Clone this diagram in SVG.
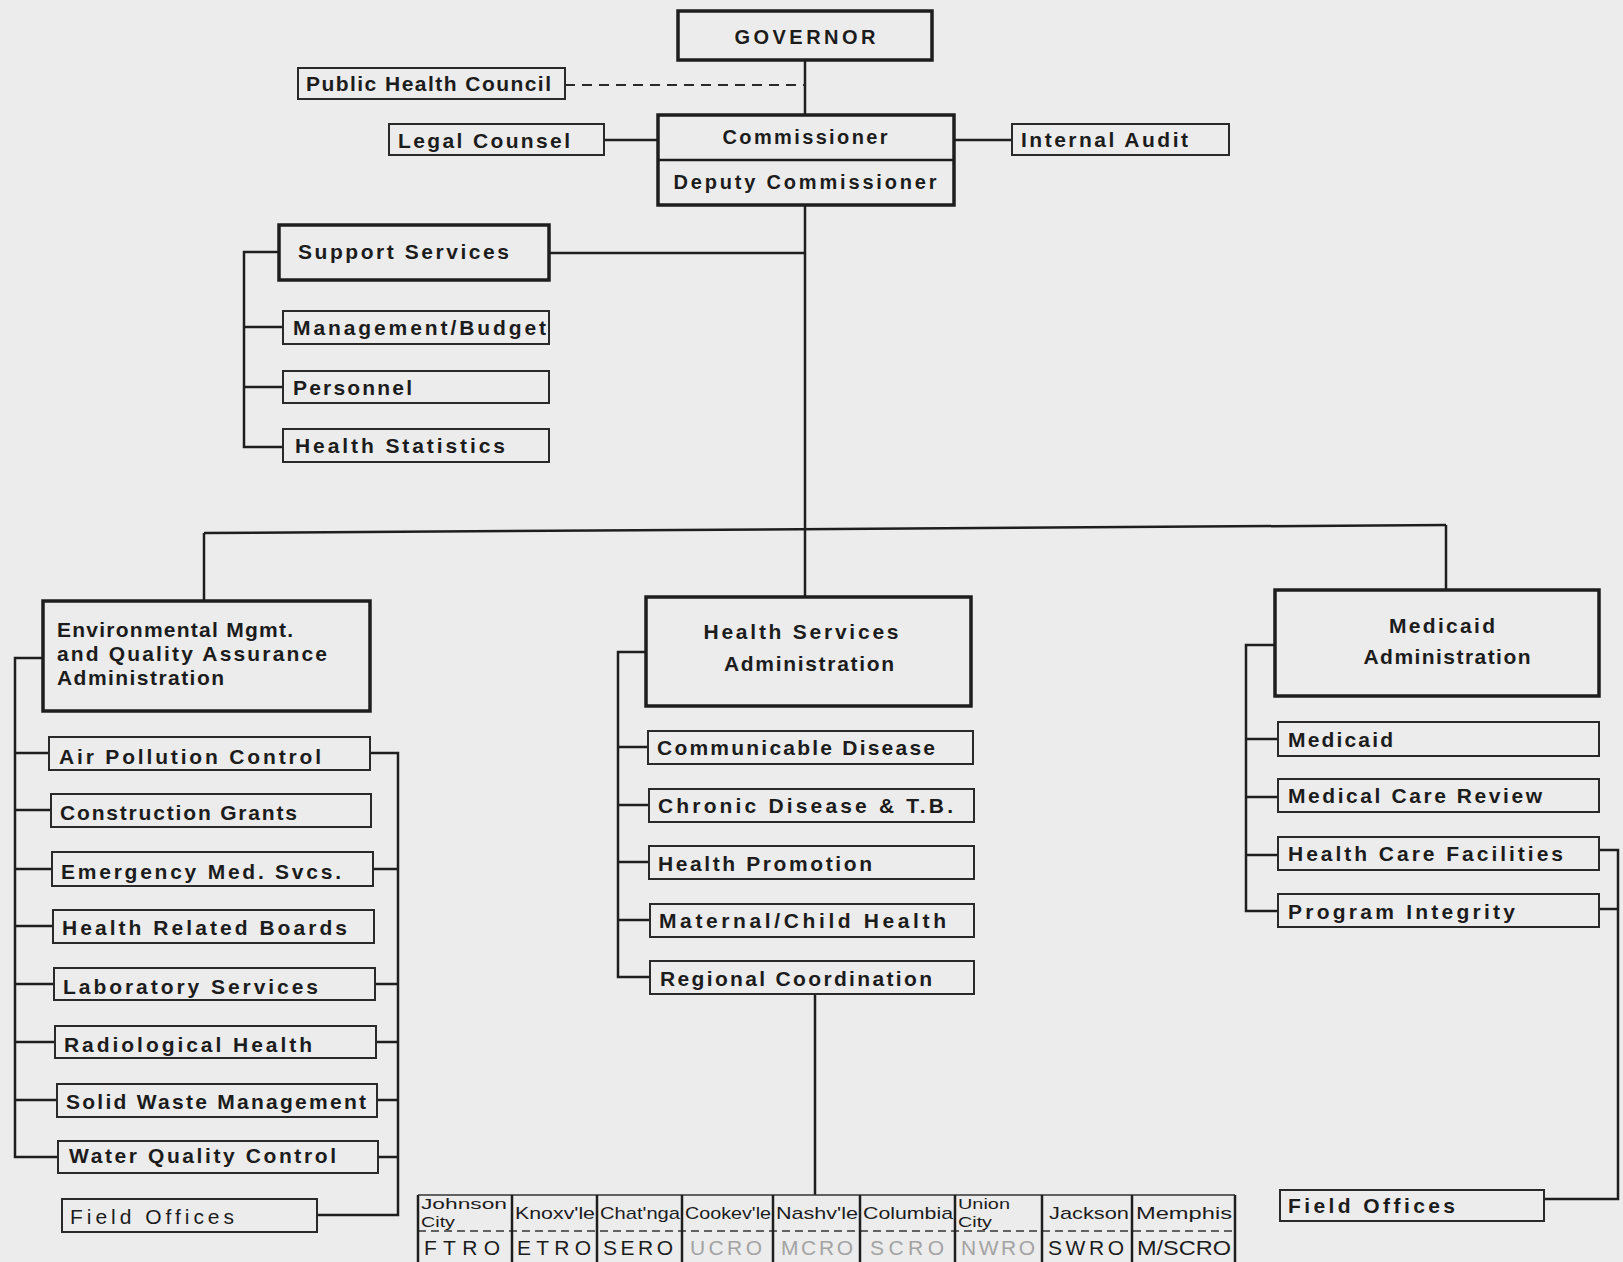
<svg xmlns="http://www.w3.org/2000/svg" width="1623" height="1262" viewBox="0 0 1623 1262">
<style>
.bg{fill:#ececec}
.main{fill:none;stroke:#1e1e1e;stroke-width:3.5}
.sub{fill:none;stroke:#2a2a2a;stroke-width:2}
.ln{fill:none;stroke:#1e1e1e;stroke-width:2.5}
.thin{fill:none;stroke:#333;stroke-width:1.6}
.dash{fill:none;stroke:#2a2a2a;stroke-width:2;stroke-dasharray:10 7}
text{font-family:"Liberation Sans",Arial,sans-serif;font-weight:bold;fill:#1c1c1c;font-size:21px}
.big{font-size:20px}
.mid{text-anchor:middle}
.tb{font-size:17px;font-weight:normal}
.tb2{font-size:15px;font-weight:normal}
.cd{font-size:21px;font-weight:normal}
.fade{fill:#a3a3a3}
</style>
<rect class="bg" x="0" y="0" width="1623" height="1262"/>

<g id="connectors">
  <path class="ln" d="M805,60 V115"/>
  <path class="dash" d="M565,85 H805"/>
  <path class="ln" d="M604,140 H658"/>
  <path class="ln" d="M954,140 H1012"/>
  <path class="ln" d="M805,205 V597"/>
  <path class="ln" d="M549,253 H805"/>
  <path class="ln" d="M279,252 H244 V447 H283 M244,327 H283 M244,387 H283"/>
  <path class="ln" d="M204,533 L1446,525"/>
  <path class="ln" d="M204,533 V601 M1446,525 V590"/>
  <path class="ln" d="M43,658 H15 V1157 H58 M15,753 H49 M15,810 H51 M15,869 H52 M15,926 H53 M15,984 H54 M15,1042 H55 M15,1100 H57"/>
  <path class="ln" d="M370,753 H398 V1215 H317 M373,869 H398 M375,984 H398 M376,1042 H398 M377,1100 H398 M378,1157 H398"/>
  <path class="ln" d="M646,652 H618 V977 H650 M618,747 H648 M618,805 H649 M618,862 H649 M618,920 H650"/>
  <path class="ln" d="M815,994 V1195"/>
  <path class="ln" d="M1275,645 H1246 V911 H1278 M1246,739 H1278 M1246,797 H1278 M1246,855 H1278"/>
  <path class="ln" d="M1599,850 H1618 V1199 H1544 M1599,909 H1618"/>
</g>

<g id="governor"><rect class="main" x="678" y="11" width="254" height="49"/><text class="big mid" x="805" y="44" textLength="141" lengthAdjust="spacing">GOVERNOR</text></g>
<g id="public-health-council"><rect class="sub" x="298" y="68" width="267" height="31"/><text x="306" y="91" textLength="245" lengthAdjust="spacing">Public Health Council</text></g>
<g id="legal-counsel"><rect class="sub" x="389" y="124" width="215" height="31"/><text x="398" y="148" textLength="172" lengthAdjust="spacing">Legal Counsel</text></g>
<g id="commissioner"><rect class="main" x="658" y="115" width="296" height="90"/><line class="ln" x1="658" y1="160" x2="954" y2="160"/><text class="big mid" x="805" y="144" textLength="165" lengthAdjust="spacing">Commissioner</text><text class="big mid" x="805" y="189" textLength="263" lengthAdjust="spacing">Deputy Commissioner</text></g>
<g id="internal-audit"><rect class="sub" x="1012" y="124" width="217" height="31"/><text x="1021" y="147" textLength="167" lengthAdjust="spacing">Internal Audit</text></g>

<g id="support-services"><rect class="main" x="279" y="225" width="270" height="55"/><text x="298" y="259" textLength="211" lengthAdjust="spacing">Support Services</text></g>
<g id="management-budget"><rect class="sub" x="283" y="311" width="266" height="33"/><text x="293" y="335" textLength="253" lengthAdjust="spacing">Management/Budget</text></g>
<g id="personnel"><rect class="sub" x="283" y="371" width="266" height="32"/><text x="293" y="395" textLength="119" lengthAdjust="spacing">Personnel</text></g>
<g id="health-statistics"><rect class="sub" x="283" y="429" width="266" height="33"/><text x="295" y="453" textLength="210" lengthAdjust="spacing">Health Statistics</text></g>

<g id="environmental"><rect class="main" x="43" y="601" width="327" height="110"/><text x="57" y="637" textLength="236" lengthAdjust="spacing">Environmental Mgmt.</text><text x="57" y="661" textLength="270" lengthAdjust="spacing">and Quality Assurance</text><text x="57" y="685" textLength="167" lengthAdjust="spacing">Administration</text></g>
<g id="air-pollution"><rect class="sub" x="49" y="737" width="321" height="33"/><text x="59" y="764" textLength="262" lengthAdjust="spacing">Air Pollution Control</text></g>
<g id="construction-grants"><rect class="sub" x="51" y="794" width="320" height="33"/><text x="60" y="820" textLength="237" lengthAdjust="spacing">Construction Grants</text></g>
<g id="emergency-med"><rect class="sub" x="52" y="852" width="321" height="34"/><text x="61" y="879" textLength="280" lengthAdjust="spacing">Emergency Med. Svcs.</text></g>
<g id="health-related-boards"><rect class="sub" x="53" y="910" width="321" height="33"/><text x="62" y="935" textLength="285" lengthAdjust="spacing">Health Related Boards</text></g>
<g id="laboratory"><rect class="sub" x="54" y="968" width="321" height="32"/><text x="63" y="994" textLength="255" lengthAdjust="spacing">Laboratory Services</text></g>
<g id="radiological"><rect class="sub" x="55" y="1026" width="321" height="32"/><text x="64" y="1052" textLength="248" lengthAdjust="spacing">Radiological Health</text></g>
<g id="solid-waste"><rect class="sub" x="57" y="1084" width="320" height="33"/><text x="66" y="1109" textLength="300" lengthAdjust="spacing">Solid Waste Management</text></g>
<g id="water-quality"><rect class="sub" x="58" y="1141" width="320" height="32"/><text x="69" y="1163" textLength="267" lengthAdjust="spacing">Water Quality Control</text></g>
<g id="field-offices-env"><rect class="sub" x="62" y="1199" width="255" height="33"/><text x="70" y="1224" textLength="164" lengthAdjust="spacing" style="font-weight:normal">Field Offices</text></g>

<g id="health-services"><rect class="main" x="646" y="597" width="325" height="109"/><text class="mid" x="801" y="639" textLength="195" lengthAdjust="spacing">Health Services</text><text class="mid" x="809" y="671" textLength="170" lengthAdjust="spacing">Administration</text></g>
<g id="communicable"><rect class="sub" x="648" y="731" width="325" height="33"/><text x="657" y="755" textLength="278" lengthAdjust="spacing">Communicable Disease</text></g>
<g id="chronic"><rect class="sub" x="649" y="789" width="325" height="33"/><text x="658" y="813" textLength="295" lengthAdjust="spacing">Chronic Disease &amp; T.B.</text></g>
<g id="health-promotion"><rect class="sub" x="649" y="846" width="325" height="33"/><text x="658" y="871" textLength="214" lengthAdjust="spacing">Health Promotion</text></g>
<g id="maternal-child"><rect class="sub" x="650" y="904" width="324" height="33"/><text x="659" y="928" textLength="287" lengthAdjust="spacing">Maternal/Child Health</text></g>
<g id="regional"><rect class="sub" x="650" y="961" width="324" height="33"/><text x="660" y="986" textLength="272" lengthAdjust="spacing">Regional Coordination</text></g>

<g id="medicaid-admin"><rect class="main" x="1275" y="590" width="324" height="106"/><text class="mid" x="1442" y="633" textLength="106" lengthAdjust="spacing">Medicaid</text><text class="mid" x="1447" y="664" textLength="167" lengthAdjust="spacing">Administration</text></g>
<g id="medicaid"><rect class="sub" x="1278" y="722" width="321" height="34"/><text x="1288" y="747" textLength="105" lengthAdjust="spacing">Medicaid</text></g>
<g id="medical-care-review"><rect class="sub" x="1278" y="779" width="321" height="33"/><text x="1288" y="803" textLength="254" lengthAdjust="spacing">Medical Care Review</text></g>
<g id="health-care-facilities"><rect class="sub" x="1278" y="837" width="321" height="33"/><text x="1288" y="861" textLength="275" lengthAdjust="spacing">Health Care Facilities</text></g>
<g id="program-integrity"><rect class="sub" x="1278" y="894" width="321" height="33"/><text x="1288" y="919" textLength="227" lengthAdjust="spacing">Program Integrity</text></g>
<g id="field-offices-medicaid"><rect class="sub" x="1280" y="1190" width="264" height="31"/><text x="1288" y="1213" textLength="167" lengthAdjust="spacing">Field Offices</text></g>

<g id="regional-offices">
  <path class="thin" d="M418,1195 H1235"/>
  <path class="thin" d="M418,1231 H1235" stroke-dasharray="8 5"/>
  <path class="ln" d="M418,1195 V1262 M512,1195 V1262 M597,1195 V1262 M682,1195 V1262 M773,1195 V1262 M860,1195 V1262 M955,1195 V1262 M1042,1195 V1262 M1132,1195 V1262 M1235,1195 V1262"/>
  <text class="tb2" x="421" y="1209" textLength="86" lengthAdjust="spacingAndGlyphs">Johnson</text>
  <text class="tb2" x="421" y="1227" textLength="34" lengthAdjust="spacingAndGlyphs">City</text>
  <text class="tb" x="515" y="1219" textLength="80" lengthAdjust="spacingAndGlyphs">Knoxv'le</text>
  <text class="tb" x="600" y="1219" textLength="80" lengthAdjust="spacingAndGlyphs">Chat'nga</text>
  <text class="tb" x="685" y="1219" textLength="86" lengthAdjust="spacingAndGlyphs">Cookev'le</text>
  <text class="tb" x="776" y="1219" textLength="82" lengthAdjust="spacingAndGlyphs">Nashv'le</text>
  <text class="tb" x="863" y="1219" textLength="90" lengthAdjust="spacingAndGlyphs">Columbia</text>
  <text class="tb2" x="958" y="1209" textLength="52" lengthAdjust="spacingAndGlyphs">Union</text>
  <text class="tb2" x="958" y="1227" textLength="34" lengthAdjust="spacingAndGlyphs">City</text>
  <text class="tb" x="1049" y="1219" textLength="80" lengthAdjust="spacingAndGlyphs">Jackson</text>
  <text class="tb" x="1136" y="1219" textLength="96" lengthAdjust="spacingAndGlyphs">Memphis</text>
  <text class="cd" x="424" y="1255" textLength="76" lengthAdjust="spacing">FTRO</text>
  <text class="cd" x="517" y="1255" textLength="74" lengthAdjust="spacing">ETRO</text>
  <text class="cd" x="603" y="1255" textLength="70" lengthAdjust="spacing">SERO</text>
  <text class="cd fade" x="690" y="1255" textLength="72" lengthAdjust="spacing">UCRO</text>
  <text class="cd fade" x="781" y="1255" textLength="72" lengthAdjust="spacing">MCRO</text>
  <text class="cd fade" x="870" y="1255" textLength="74" lengthAdjust="spacing">SCRO</text>
  <text class="cd fade" x="961" y="1255" textLength="74" lengthAdjust="spacing">NWRO</text>
  <text class="cd" x="1048" y="1255" textLength="76" lengthAdjust="spacing">SWRO</text>
  <text class="cd" x="1137" y="1255" textLength="94" lengthAdjust="spacingAndGlyphs">M/SCRO</text>
</g>
</svg>
